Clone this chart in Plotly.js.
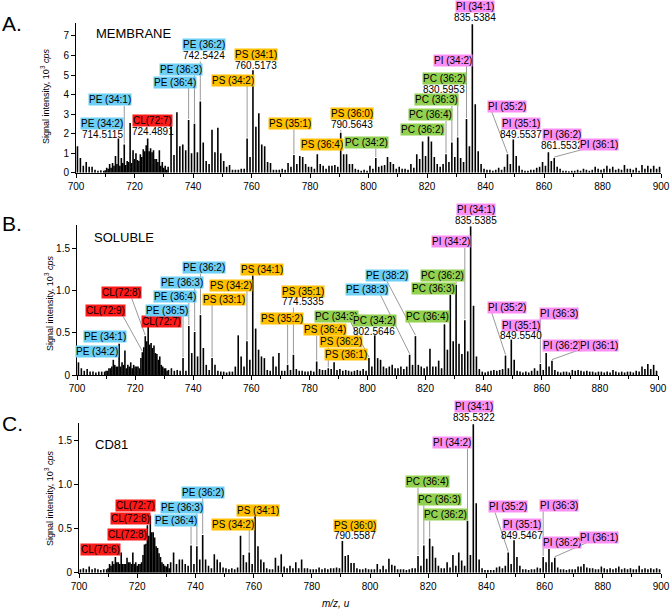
<!DOCTYPE html>
<html>
<head>
<meta charset="utf-8">
<script src="https://cdn.plot.ly/plotly-3.0.1.min.js"></script>
<style>
  html, body { margin: 0; padding: 0; background: #fff; }
  #plotArea { width: 671px; height: 610px; }
</style>
</head>
<body>
<div id="plotArea"></div>
<script>
// stick intensities (10^3 cps) for nominal m/z 700..899, one stick per unit
var intA = [
  1.35, 0.75, 0.35, 0.55, 0.3, 0.3, 0.15, 0.1, 0.12, 0.1,
  0.25, 0.45, 0.5, 0.85, 1.75, 0.75, 1.45, 0.6, 2.55, 1.15,
  1.0, 0.6, 0.8, 1.1, 1.75, 1.25, 1.15, 0.7, 1.15, 0.55,
  0.35, 0.3, 2.5, 0.9, 3.1, 1.35, 1.45, 1.15, 2.7, 1.0,
  2.5, 1.05, 3.65, 1.55, 0.6, 0.45, 2.2, 1.05, 2.3, 1.0,
  0.6, 0.3, 0.4, 0.15, 0.15, 0.15, 0.2, 0.2, 1.75, 0.8,
  5.25, 2.35, 3.05, 1.45, 1.35, 0.55, 0.5, 0.15, 0.15, 0.15,
  0.2, 0.15, 0.5, 0.3, 0.9, 0.45, 0.85, 0.8, 0.45, 0.3,
  0.3, 0.2, 0.95, 0.45, 0.35, 0.2, 0.35, 0.35, 0.4, 0.3,
  2.05, 0.95, 0.95, 0.45, 0.45, 0.2, 0.15, 0.1, 0.15, 0.1,
  0.35, 0.2, 0.75, 0.3, 0.35, 0.4, 0.8, 0.55, 0.45, 0.2,
  0.3, 0.2, 0.2, 0.15, 0.45, 0.25, 0.95, 0.7, 1.6, 0.85,
  1.85, 1.6, 0.8, 0.45, 0.3, 0.45, 0.95, 0.55, 1.55, 0.8,
  1.8, 0.75, 0.55, 2.75, 1.35, 7.6, 3.5, 1.1, 0.45, 0.2,
  0.15, 0.15, 0.1, 0.15, 0.25, 0.15, 0.3, 0.95, 0.45, 1.7,
  0.85, 0.35, 0.15, 0.1, 0.1, 0.15, 0.15, 0.25, 0.3, 0.55,
  0.35, 1.05, 0.6, 0.75, 0.3, 0.2, 0.1, 0.1, 0.08, 0.1,
  0.1, 0.15, 0.1, 0.2, 0.15, 0.1, 0.15, 0.3, 0.2, 0.15,
  0.2, 0.35, 0.2, 0.3, 0.15, 0.2, 0.15, 0.4, 0.2, 0.2,
  0.15, 0.25, 0.1, 0.4, 0.2, 0.35, 0.2, 0.35, 0.2, 0.3
];
var intB = [
  0.15, 0.08, 0.05, 0.07, 0.04, 0.04, 0.03, 0.04, 0.04, 0.04,
  0.05, 0.08, 0.18, 0.1, 0.37, 0.15, 0.29, 0.12, 0.15, 0.12,
  0.1, 0.08, 0.27, 0.46, 0.57, 0.38, 0.35, 0.25, 0.22, 0.1,
  0.08, 0.06, 0.08, 0.05, 0.06, 0.05, 0.2, 0.05, 0.58, 0.26,
  0.51, 0.22, 0.71, 0.32, 0.12, 0.06, 0.2, 0.12, 0.05, 0.04,
  0.04, 0.03, 0.04, 0.04, 0.1, 0.47, 0.22, 0.1, 0.4, 0.18,
  1.18, 0.55, 0.3, 0.22, 0.2, 0.06, 0.05, 0.22, 0.1, 0.26,
  0.05, 0.05, 0.12, 0.06, 0.24, 0.07, 0.05, 0.05, 0.04, 0.04,
  0.05, 0.04, 0.16, 0.07, 0.06, 0.06, 0.08, 0.07, 0.15, 0.06,
  0.07, 0.05, 0.06, 0.05, 0.04, 0.05, 0.06, 0.05, 0.07, 0.05,
  0.2, 0.1, 0.47, 0.2, 0.18, 0.1, 0.08, 0.1, 0.12, 0.08,
  0.08, 0.1, 0.07, 0.1, 0.24, 0.12, 0.46, 0.12, 0.1, 0.08,
  0.1, 0.31, 0.1, 0.1, 0.17, 0.08, 0.6, 0.3, 0.95, 0.4,
  1.07, 0.37, 0.25, 0.65, 0.28, 1.76, 0.82, 0.22, 0.07, 0.04,
  0.03, 0.04, 0.05, 0.06, 0.05, 0.06, 0.07, 0.23, 0.08, 0.42,
  0.18, 0.05, 0.04, 0.03, 0.04, 0.03, 0.05, 0.08, 0.05, 0.13,
  0.06, 0.26, 0.1, 0.17, 0.06, 0.04, 0.03, 0.04, 0.04, 0.03,
  0.06, 0.05, 0.06, 0.05, 0.04, 0.05, 0.04, 0.04, 0.03, 0.04,
  0.04, 0.03, 0.04, 0.03, 0.06, 0.04, 0.03, 0.04, 0.03, 0.04,
  0.04, 0.03, 0.05, 0.04, 0.1, 0.07, 0.13, 0.07, 0.12, 0.05
];
var intC = [
  0.04, 0.05, 0.04, 0.07, 0.04, 0.05, 0.04, 0.03, 0.04, 0.04,
  0.1, 0.13, 0.18, 0.12, 0.23, 0.1, 0.17, 0.12, 0.23, 0.12,
  0.1, 0.12, 0.32, 0.54, 0.65, 0.46, 0.3, 0.22, 0.12, 0.08,
  0.1, 0.12, 0.23, 0.1, 0.15, 0.15, 0.1, 0.08, 0.31, 0.1,
  0.3, 0.15, 0.43, 0.15, 0.08, 0.05, 0.21, 0.15, 0.12, 0.06,
  0.05, 0.04, 0.05, 0.04, 0.06, 0.42, 0.2, 0.12, 0.23, 0.1,
  0.66, 0.3, 0.15, 0.12, 0.05, 0.04, 0.04, 0.17, 0.08, 0.21,
  0.07, 0.05, 0.08, 0.05, 0.12, 0.05, 0.15, 0.05, 0.05, 0.04,
  0.04, 0.04, 0.06, 0.04, 0.05, 0.04, 0.05, 0.05, 0.06, 0.05,
  0.36, 0.19, 0.2, 0.11, 0.11, 0.05, 0.04, 0.04, 0.05, 0.04,
  0.04, 0.04, 0.1, 0.04, 0.08, 0.04, 0.16, 0.09, 0.08, 0.04,
  0.04, 0.04, 0.03, 0.04, 0.05, 0.05, 0.19, 0.08, 0.31, 0.16,
  0.39, 0.3, 0.17, 0.08, 0.05, 0.05, 0.12, 0.06, 0.2, 0.08,
  0.23, 0.14, 0.08, 0.59, 0.2, 1.69, 0.79, 0.15, 0.05, 0.03,
  0.03, 0.03, 0.03, 0.06, 0.07, 0.05, 0.08, 0.23, 0.1, 0.37,
  0.18, 0.08, 0.04, 0.04, 0.03, 0.04, 0.04, 0.06, 0.05, 0.18,
  0.12, 0.27, 0.12, 0.17, 0.06, 0.04, 0.04, 0.03, 0.04, 0.04,
  0.04, 0.07, 0.07, 0.1, 0.06, 0.05, 0.05, 0.04, 0.04, 0.07,
  0.05, 0.04, 0.05, 0.04, 0.05, 0.07, 0.04, 0.05, 0.04, 0.05,
  0.04, 0.04, 0.08, 0.04, 0.05, 0.04, 0.05, 0.04, 0.05, 0.04
];
// extra sticks of the doubly charged CL cluster, m/z 710.0..731.0
var clusterA = [0.12, 0.2, 0.25, 0.35, 0.45, 0.35, 0.5, 0.4, 0.55, 0.5, 0.7, 0.65, 0.95, 1.2, 1.4, 1.1, 1.05, 0.7, 0.55, 0.35, 0.25, 0.15];
var clusterB = [0.05, 0.08, 0.1, 0.12, 0.1, 0.1, 0.12, 0.08, 0.1, 0.08, 0.1, 0.1, 0.2, 0.33, 0.4, 0.36, 0.32, 0.26, 0.18, 0.12, 0.08, 0.05];
var clusterC = [0.05, 0.08, 0.1, 0.12, 0.1, 0.1, 0.1, 0.12, 0.1, 0.1, 0.08, 0.1, 0.2, 0.33, 0.42, 0.46, 0.4, 0.28, 0.18, 0.1, 0.07, 0.05];

// peak labels
var namesA = ['PE (34:2)','PE (34:1)','CL(72:7)','PE (36:4)','PE (36:3)','PE (36:2)','PS (34:2)','PS (34:1)','PS (35:1)','PS (36:4)','PS (36:0)','PC (34:2)','PC (36:2)','PC (36:4)','PC (36:3)','PC (36:2)','PI (34:2)','PI (34:1)','PI (35:2)','PI (35:1)','PI (36:2)','PI (36:1)'];
var massA = ['714.5115','','724.4891','','','742.5424','','760.5173','','','790.5643','','','','','830.5953','','835.5384','','849.5537','861.5532',''];
var peakA = [714.5,716.5,724.5,738.5,740.5,742.5,758.5,760.5,774.5,782.5,790.5,802.5,820.5,826.5,828.5,830.5,833.5,835.5,847.5,849.5,861.5,863.5];

var namesB = ['PE (34:2)','PE (34:1)','CL(72:9)','CL(72:8)','CL(72:7)','PE (36:5)','PE (36:4)','PE (36:3)','PE (36:2)','PS (33:1)','PS (34:2)','PS (34:1)','PS (35:2)','PS (35:1)','PS (36:4)','PS (36:2)','PS (36:1)','PC (34:3)','PC (34:2)','PE (38:3)','PE (38:2)','PC (36:4)','PC (36:3)','PC (36:2)','PI (34:2)','PI (34:1)','PI (35:2)','PI (35:1)','PI (36:3)','PI (36:2)','PI (36:1)'];
var massB = ['','','','','','','','','','','','','','774.5335','','','','','802.5646','','','','','','','835.5385','','849.5540','','',''];
var peakB = [714.5,716.5,722.5,723.5,724.5,736.5,738.5,740.5,742.5,746.5,758.5,760.5,772.5,774.5,782.5,786.5,788.5,800.5,802.5,814.5,816.5,826.5,828.5,830.5,833.5,835.5,847.5,849.5,859.5,861.5,863.5];

var namesC = ['CL(70:6)','CL(72:8)','CL(72:8)','CL(72:7)','PE (36:4)','PE (36:3)','PE (36:2)','PS (34:2)','PS (34:1)','PS (36:0)','PC (36:4)','PC (36:3)','PC (36:2)','PI (34:2)','PI (34:1)','PI (35:2)','PI (35:1)','PI (36:3)','PI (36:2)','PI (36:1)'];
var massC = ['','','','','','','','','','790.5587','','','','','835.5322','','849.5467','','',''];
var peakC = [712.5,722.5,723.5,724.5,738.5,740.5,742.5,758.5,760.5,790.5,816.5,818.5,820.5,833.5,835.5,847.5,849.5,859.5,861.5,863.5];

var panelTitles = ['MEMBRANE', 'SOLUBLE', 'CD81'];
var panelLetters = ['A.', 'B.', 'C.'];

// ---- layout (pixel placement of label boxes: centre x, centre y, leader: 0 none, 1 vertical, [x,y] start) ----
var placeA = [[102,123.7,0],[110,100,1],[152.7,120.3,0],[175.3,82,1],[181.3,69.3,1],[204,45,1],[233,80,1],[256.3,55,1],[290,123.5,1],[321.5,145,0],[351.7,113.5,1],[366.3,142.5,1],[422.8,129.5,1],[430.3,115,1],[436.3,99.7,1],[444.3,78.3,1],[452.7,60,1],[474.7,6.7,1],[506.7,106.3,[491.7,111.7]],[521,123.3,1],[561.7,134.7,1],[599,144.2,[583.3,149.3]]];
var placeB = [[96.7,351.7,0],[105,336.7,0],[105.8,310.3,[123.3,316.7]],[121.3,292.8,[131.7,298.3]],[161,321.7,0],[166.8,310,1],[175,296.7,1],[182,282.3,1],[204,267.7,1],[224,299,1],[231.3,285,1],[262.3,269.2,1],[282.3,318.3,1],[302.7,291,1],[325,329.7,1],[340.5,341.7,1],[345.8,354.7,1],[336.3,316.2,[350,320.7]],[374.3,320.3,1],[367,289,[380,294]],[386.7,275.7,[386.7,280.7]],[427.7,316.7,1],[433.3,288.3,1],[442.7,275.7,1],[451,241.7,1],[475.5,210,1],[506.7,307.7,[491.7,312.7]],[521.3,325,1],[559.3,313.3,1],[561.7,345,1],[599,345,[580.7,349.3]]];
var placeC = [[100.7,549,0],[127.3,534.7,0],[130,518.3,0],[135,505.3,0],[176.3,520.8,1],[182,507.5,1],[203,492.3,1],[233.3,524.2,1],[258.3,510,1],[355,525,1],[427.7,481.7,1],[439.3,499.3,1],[445,514.7,1],[451.7,442.7,1],[474.2,406.7,1],[508.3,506.7,[495,512.3]],[522,524.7,1],[559.3,505,1],[561.7,542.7,1],[599,537.7,[586.7,542.7]]];

var W = 671, H = 610;
var FONT = 'Liberation Sans, Arial, Helvetica, sans-serif';
var geo = [
  {xl: 76, xr: 661, yb: 172.7, yt: 23, ymax: 7.665, ticks: [0,1,2,3,4,5,6,7], tickText: ['0','1','2','3','4','5','6','7'], ty: 97, tx: 45, titleY: 34, titleX: 94, letterY: 24},
  {xl: 77, xr: 658, yb: 375, yt: 225, ymax: 1.777, ticks: [0,0.5,1,1.5], tickText: ['0','0.5','1.0','1.5'], ty: 304, tx: 49, titleY: 237, titleX: 92, letterY: 223},
  {xl: 79, xr: 661, yb: 572.7, yt: 423.3, ymax: 1.70, ticks: [0,0.5,1,1.5], tickText: ['0','0.5','1.0','1.5'], ty: 499, tx: 49, titleY: 444, titleX: 93, letterY: 423}
];
var colors = {PE: '#6dcff6', PS: '#ffc000', PC: '#92d050', PI: '#fb8ff5', CL: '#ff1a1a'};

var panels = [
  {ints: intA, cl: clusterA, names: namesA, mass: massA, peaks: peakA, place: placeA},
  {ints: intB, cl: clusterB, names: namesB, mass: massB, peaks: peakB, place: placeB},
  {ints: intC, cl: clusterC, names: namesC, mass: massC, peaks: peakC, place: placeC}
];

function dataX(g, px) { return 700 + (px - g.xl) / (g.xr - g.xl) * 200; }
function dataY(g, py) { return (g.yb - py) / (g.yb - g.yt) * g.ymax; }
function pixY(g, v) { return g.yb - v / g.ymax * (g.yb - g.yt); }

var traces = [];
var ann = [];
var shp = [];
var layout = {
  width: W, height: H,
  margin: {l: 0, r: 0, t: 0, b: 0},
  paper_bgcolor: '#fff', plot_bgcolor: '#fff',
  showlegend: false,
  font: {family: FONT, color: '#000'}
};

panels.forEach(function (p, k) {
  var g = geo[k];
  var s = k === 0 ? '' : String(k + 1);
  var xs = [], ys = [];
  p.ints.forEach(function (v, i) {
    var m = 700 + i + 0.5;
    xs.push(m, m, null); ys.push(0, v, null);
  });
  p.cl.forEach(function (v, i) {
    var m = 710 + i;
    xs.push(m, m, null); ys.push(0, v, null);
  });
  traces.push({
    x: xs, y: ys, type: 'scatter', mode: 'lines',
    xaxis: 'x' + s, yaxis: 'y' + s,
    line: {color: '#000', width: 1.6}, hoverinfo: 'skip'
  });

  layout['xaxis' + s] = {
    domain: [g.xl / W, g.xr / W], range: [700, 900], anchor: 'y' + s,
    tickmode: 'linear', tick0: 700, dtick: 20,
    ticks: 'outside', ticklen: 4, tickwidth: 1, tickcolor: '#000',
    minor: {tickmode: 'linear', tick0: 700, dtick: 10, ticks: 'outside', ticklen: 3, tickcolor: '#000'},
    showline: true, linecolor: '#000', linewidth: 1,
    showgrid: false, zeroline: false,
    tickfont: {size: 10, family: FONT, color: '#000'}
  };
  layout['yaxis' + s] = {
    domain: [(H - g.yb) / H, (H - g.yt) / H], range: [0, g.ymax], anchor: 'x' + s,
    tickmode: 'array', tickvals: g.ticks, ticktext: g.tickText,
    ticks: 'outside', ticklen: 4, tickwidth: 1, tickcolor: '#000',
    showline: true, linecolor: '#000', linewidth: 1,
    showgrid: false, zeroline: false,
    tickfont: {size: 10, family: FONT, color: '#000'}
  };

  // panel letter, title, y axis title
  ann.push({xref: 'paper', yref: 'paper', x: 12 / W, y: 1 - g.letterY / H, text: panelLetters[k],
    showarrow: false, xanchor: 'center', yanchor: 'middle', font: {size: 21, family: FONT, color: '#000'}});
  ann.push({xref: 'paper', yref: 'paper', x: g.titleX / W, y: 1 - g.titleY / H, text: panelTitles[k],
    showarrow: false, xanchor: 'left', yanchor: 'middle', font: {size: 13, family: FONT, color: '#000'}});
  ann.push({xref: 'paper', yref: 'paper', x: g.tx / W, y: 1 - g.ty / H,
    text: 'Signal intensity, 10<sup>3</sup> <i>cps</i>', textangle: -90,
    showarrow: false, xanchor: 'center', yanchor: 'middle', font: {size: 9, family: FONT, color: '#000'}});

  // peak labels and leader lines
  p.names.forEach(function (name, i) {
    var pl = p.place[i];
    var cx = pl[0], cy = pl[1], lead = pl[2];
    var col = colors[name.slice(0, 2)];
    ann.push({xref: 'paper', yref: 'paper', x: cx / W, y: 1 - cy / H, text: name,
      showarrow: false, xanchor: 'center', yanchor: 'middle', bgcolor: col, borderpad: 0,
      font: {size: 10, family: FONT, color: '#000'}});
    var bottom = cy + 6;
    if (p.mass[i]) {
      ann.push({xref: 'paper', yref: 'paper', x: cx / W, y: 1 - (cy + 10.8) / H, text: p.mass[i],
        showarrow: false, xanchor: 'center', yanchor: 'middle', borderpad: 0,
        font: {size: 10, family: FONT, color: '#000'}});
      bottom = cy + 16.5;
    }
    if (!lead) return;
    var pk = p.peaks[i];
    var top = p.ints[Math.floor(pk) - 700];
    var topPx = pixY(g, top) - 1;
    var x0, y0;
    if (lead === 1) {
      if (topPx - bottom < 1.5) return;
      x0 = pk; y0 = dataY(g, bottom);
    } else {
      x0 = dataX(g, lead[0]); y0 = dataY(g, lead[1]);
    }
    shp.push({type: 'line', xref: 'x' + s, yref: 'y' + s, x0: x0, y0: y0, x1: pk, y1: dataY(g, topPx),
      line: {color: '#9a9a9a', width: 1}});
  });
});

ann.push({xref: 'paper', yref: 'paper', x: 336 / W, y: 1 - 603 / H, text: '<i>m/z, u</i>',
  showarrow: false, xanchor: 'center', yanchor: 'middle', font: {size: 10, family: FONT, color: '#000'}});

layout.annotations = ann;
layout.shapes = shp;

Plotly.newPlot('plotArea', traces, layout, {displayModeBar: false, staticPlot: true});
</script>
</body>
</html>
